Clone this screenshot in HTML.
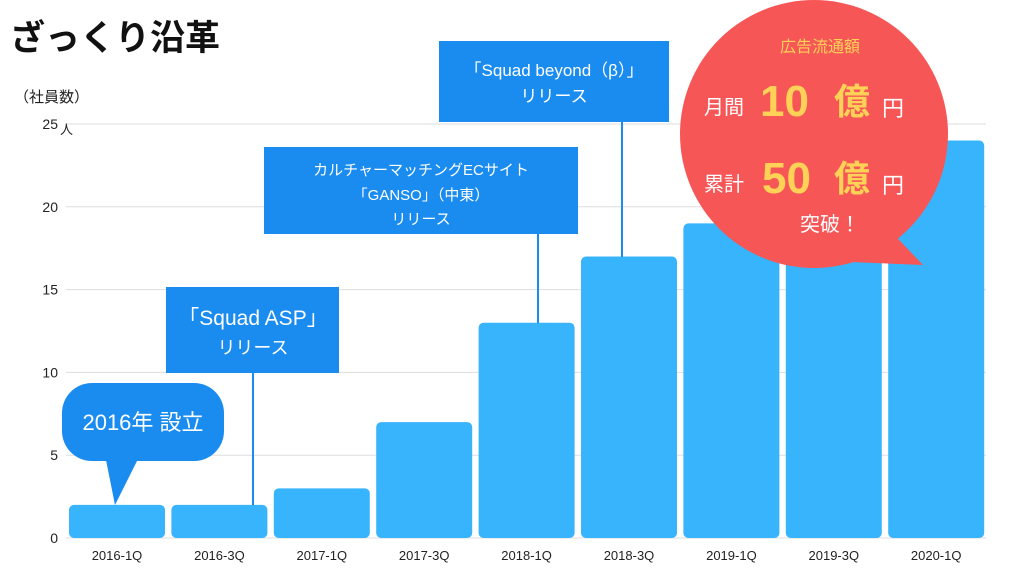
<!DOCTYPE html>
<html><head><meta charset="utf-8"><style>
body{margin:0;background:#fff;}
svg{display:block;font-family:"Liberation Sans","Noto Sans CJK JP",sans-serif;}
</style></head><body>
<svg id="c" width="1024" height="576" viewBox="0 0 1024 576">
<text x="10" y="50" font-size="35" font-weight="bold" fill="#111">ざっくり沿革</text>
<text x="14" y="102" font-size="15" fill="#222">（社員数）</text>
<g id="grid"></g>
<g id="bars"></g>
<g id="xlabels"></g>
<g>
<rect x="62" y="383" width="162" height="78" rx="30" fill="#1a8cf0"/>
<path d="M105 455 L115 505 L140 455 Z" fill="#1a8cf0"/>
<text x="143" y="430" font-size="22" fill="#fff" text-anchor="middle">2016年 設立</text>
</g>
<g>
<line x1="253" y1="372" x2="253" y2="505" stroke="#1a8cf0" stroke-width="2"/>
<rect x="166" y="287" width="173" height="86" fill="#1a8cf0"/>
<text x="253" y="325" font-size="21" fill="#fff" text-anchor="middle">「Squad ASP」</text>
<text x="253" y="354" font-size="18" fill="#fff" text-anchor="middle">リリース</text>
</g>
<g>
<line x1="538" y1="232" x2="538" y2="323" stroke="#1a8cf0" stroke-width="2"/>
<rect x="264" y="147" width="314" height="87" fill="#1a8cf0"/>
<text x="421" y="175" font-size="15" fill="#fff" text-anchor="middle">カルチャーマッチングECサイト</text>
<text x="421" y="200" font-size="15" fill="#fff" text-anchor="middle">「GANSO」（中東）</text>
<text x="421" y="224" font-size="15" fill="#fff" text-anchor="middle">リリース</text>
</g>
<g>
<line x1="622" y1="120" x2="622" y2="257" stroke="#1a8cf0" stroke-width="2"/>
<rect x="439" y="41" width="230" height="81" fill="#1a8cf0"/>
<text x="554" y="76" font-size="17" fill="#fff" text-anchor="middle">「Squad beyond（β）」</text>
<text x="554" y="102" font-size="17" fill="#fff" text-anchor="middle">リリース</text>
</g>
<g>
<circle cx="814" cy="134" r="134" fill="#f65656"/>
<path d="M880 220 L923 265 L850 262 Z" fill="#f65656"/>
<text x="820" y="52" font-size="16" fill="#ffd257" text-anchor="middle">広告流通額</text>
<text x="704" y="114" font-size="20" fill="#fff">月間</text>
<text x="760" y="116" font-size="44" font-weight="bold" fill="#ffd257">10</text>
<text x="834" y="114" font-size="36" font-weight="bold" fill="#ffd257">億</text>
<text x="882" y="116" font-size="22" fill="#fff">円</text>
<text x="704" y="191" font-size="20" fill="#fff">累計</text>
<text x="762" y="193" font-size="44" font-weight="bold" fill="#ffd257">50</text>
<text x="834" y="191" font-size="36" font-weight="bold" fill="#ffd257">億</text>
<text x="882" y="193" font-size="22" fill="#fff">円</text>
<text x="830" y="231" font-size="20" fill="#fff" text-anchor="middle">突破！</text>
</g>
</svg>
<script>
const categories=["2016-1Q","2016-3Q","2017-1Q","2017-3Q","2018-1Q","2018-3Q","2019-1Q","2019-3Q","2020-1Q"];
const values=[2,2,3,7,13,17,19,22,24];
const ticks=[0,5,10,15,20,25];
const NS="http://www.w3.org/2000/svg";
const y0=538,yTop=124,yMax=25,x0=66,pitch=102.4,bw=96;
function yS(v){return y0-(y0-yTop)*v/yMax;}
function xS(i){return x0+3+i*pitch;}
function mk(t,a,p){const e=document.createElementNS(NS,t);for(const k in a)e.setAttribute(k,a[k]);p.appendChild(e);return e;}
const g=document.getElementById('grid'),b=document.getElementById('bars'),xl=document.getElementById('xlabels');
ticks.forEach(t=>{
 const l=mk('line',{x1:66,x2:986,y1:yS(t),y2:yS(t),stroke:'#ddd','stroke-width':1},g);
 
 
 const tx=mk('text',{x:58,y:yS(t)+5,'font-size':14,'text-anchor':'end',fill:'#222'},g);
 tx.textContent=t;
 
 
});
const u=mk('text',{x:60,y:yS(25)+10,'font-size':13,fill:'#222'},g);u.textContent='人';


values.forEach((v,i)=>{
 const r=mk('rect',{x:xS(i),y:yS(v),width:bw,height:y0-yS(v),rx:5,fill:'#38b4fc'},b);
 
 
 const t=mk('text',{x:xS(i)+bw/2,y:560,'font-size':13,'text-anchor':'middle',fill:'#222'},xl);
 t.textContent=categories[i];
 
 
});
</script>
</body></html>
